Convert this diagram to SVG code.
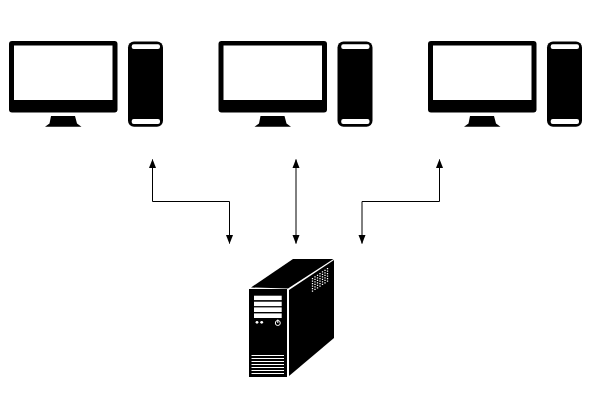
<svg xmlns="http://www.w3.org/2000/svg" width="592" height="402" viewBox="0 0 592 402">
<style>
.conn{fill:none;stroke:#000;stroke-width:1;marker-start:url(#a);marker-end:url(#a)}
.w{fill:#fff}
.k{fill:#000}
</style>
<defs>
<marker id="a" markerUnits="userSpaceOnUse" markerWidth="9" markerHeight="8" refX="8.500" refY="4" orient="auto-start-reverse" viewBox="0 0 9 8" overflow="visible"><path d="M0 0.500L9 4L0 7.500Z" fill="#000"/></marker>
<g id="ws">
<rect class="k" x="9" y="41" width="108.500" height="71.500" rx="3"/>
<rect class="w" x="14" y="45.500" width="98.500" height="54.500"/>
<path class="k" d="M51 116H75L77 123.500L81.500 126.800H45L49.500 123.500Z"/>
<rect class="k" x="128" y="41.500" width="35" height="85.300" rx="6"/>
<rect class="w" x="131.700" y="44.300" width="28.300" height="4.700" rx="2"/>
<rect class="w" x="131.700" y="119" width="28.300" height="5" rx="2"/>
</g>
</defs>
<rect width="592" height="402" fill="#fff"/>
<g id="connectors">
<path class="conn" d="M152.500 159.500V201.500H229.500V243.500"/>
<path class="conn" d="M296 159.500V243.500"/>
<path class="conn" d="M439.500 159.500V201.500H362V243.500"/>
</g>
<g id="workstation-1"><use href="#ws"/></g>
<g id="workstation-2"><use href="#ws" x="209.500"/></g>
<g id="workstation-3"><use href="#ws" x="419"/></g>
<g id="server">
<path class="k" d="M251 287.500L293 259H333.500L288 288.500Z"/>
<rect class="k" x="249" y="289" width="38" height="88"/>
<path class="k" d="M289 290L334 260V338L289 376Z"/>
<rect class="w" x="254" y="295.700" width="27.700" height="4.400"/>
<rect class="w" x="254" y="301.700" width="27.700" height="4.400"/>
<rect class="w" x="254" y="307.400" width="27.700" height="4.600"/>
<rect class="w" x="254" y="313.400" width="27.700" height="4.600"/>
<circle class="w" cx="257" cy="322.300" r="1.400"/>
<circle class="w" cx="261.700" cy="322.300" r="1.400"/>
<circle cx="277.800" cy="323" r="2.500" fill="none" stroke="#fff"/>
<path d="M277.800 319.500V323" stroke="#fff"/>
<path d="M251.500 355.500H284M251.500 358.500H284M251.500 361.500H284M251.500 364.500H284M251.500 367.500H284M251.500 370.500H284M251.500 373.500H284" stroke="#fff"/>
<path d="M312.500 278V293M315 276.300V291.300M317.500 274.700V289.700M320 273V288M322.500 271.300V286.300M325 269.700V284.700M327.500 268V283" stroke="#fff" stroke-width="1.300" stroke-dasharray="1.300 1.200"/>
</g>
</svg>
